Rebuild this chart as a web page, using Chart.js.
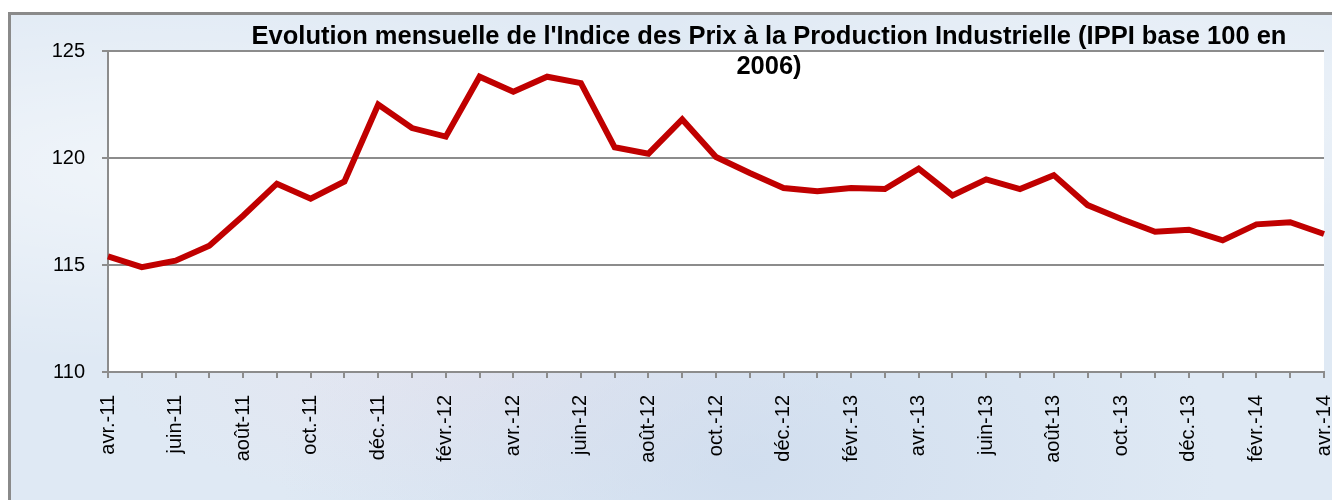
<!DOCTYPE html>
<html lang="fr">
<head>
<meta charset="utf-8">
<title>IPPI base 100 en 2006</title>
<script src="https://cdn.jsdelivr.net/npm/chart.js@4"></script>
<style>
  html, body { margin: 0; padding: 0; background: #fff; overflow: hidden; }
  #wrap { position: relative; width: 1332px; height: 500px; }
  #frame {
    position: absolute; left: 8px; top: 12px; width: 1340px; height: 500px;
    border: 3px solid #8a8a8a;
    background-color: #dfe9f4;
    background-image:
      radial-gradient(ellipse at 12% 30%, rgba(255,255,255,.55), rgba(255,255,255,0) 40%),
      radial-gradient(ellipse at 55% 90%, rgba(200,215,235,.6), rgba(200,215,235,0) 45%),
      radial-gradient(ellipse at 85% 20%, rgba(255,255,255,.45), rgba(255,255,255,0) 35%),
      radial-gradient(ellipse at 35% 70%, rgba(235,225,235,.5), rgba(235,225,235,0) 30%);
  }
  #chartTitle {
    position: absolute; left: 769px; top: 20px; transform: translateX(-50%);
    font: bold 25.5px Arial, "Liberation Sans", sans-serif; line-height: 30px;
    text-align: center; white-space: nowrap; color: #000; z-index: 2;
  }
  canvas { position: absolute; left: 0; top: 0; }
</style>
</head>
<body>
<div id="wrap">
  <div id="frame"></div>
  <canvas id="ippiChart" width="1332" height="500"></canvas>
  <div id="chartTitle">Evolution mensuelle de l'Indice des Prix à la Production Industrielle (IPPI base 100 en<br>2006)</div>
</div>
<script>
// ── data ──
const months = [
  'avr.-11', 'mai-11', 'juin-11', 'juil.-11', 'août-11', 'sept.-11', 'oct.-11', 'nov.-11', 'déc.-11',
  'janv.-12', 'févr.-12', 'mars-12', 'avr.-12', 'mai-12', 'juin-12', 'juil.-12', 'août-12', 'sept.-12',
  'oct.-12', 'nov.-12', 'déc.-12', 'janv.-13', 'févr.-13', 'mars-13', 'avr.-13', 'mai-13', 'juin-13',
  'juil.-13', 'août-13', 'sept.-13', 'oct.-13', 'nov.-13', 'déc.-13', 'janv.-14', 'févr.-14', 'mars-14',
  'avr.-14'
];
const ippi = [
  115.4, 114.9, 115.2, 115.9, 117.3, 118.8, 118.1, 118.9, 122.5,
  121.4, 121.0, 123.8, 123.1, 123.8, 123.5, 120.5, 120.2, 121.8,
  120.05, 119.3, 118.6, 118.45, 118.6, 118.55, 119.5, 118.25, 119.0,
  118.55, 119.2, 117.8, 117.15, 116.55, 116.65, 116.15, 116.9, 117.0,
  116.45
];
const yTicks = [110, 115, 120, 125];

const gridColor = '#8c8c8c';
const labelFont = { family: "Arial, 'Liberation Sans', sans-serif", size: 20 };

// white plot area on the textured background
const plotBg = {
  id: 'plotBg',
  beforeDraw(chart) {
    const { ctx, chartArea: a } = chart;
    ctx.save();
    ctx.fillStyle = '#ffffff';
    ctx.fillRect(a.left, a.top, a.right - a.left, a.bottom - a.top);
    ctx.restore();
  }
};

new Chart(document.getElementById('ippiChart'), {
  type: 'line',
  data: {
    labels: months,
    datasets: [{
      label: 'IPPI',
      data: ippi,
      borderColor: '#c00000',
      borderWidth: 6,
      pointRadius: 0,
      tension: 0,
      fill: false
    }]
  },
  options: {
    responsive: false,
    animation: false,
    layout: { padding: { top: 51, right: 8, left: 0, bottom: 0 } },
    plugins: { legend: { display: false }, title: { display: false }, tooltip: { enabled: false } },
    scales: {
      x: {
        offset: false,
        grid: { display: true, drawOnChartArea: false, drawTicks: true, tickLength: 6, color: gridColor, lineWidth: 2 },
        border: { display: true, color: gridColor, width: 2 },
        ticks: {
          autoSkip: false, minRotation: 90, maxRotation: 90, padding: 17,
          color: '#000', font: labelFont,
          callback: (v, i) => (i % 2 === 0 ? months[i] : '')
        },
        afterFit: s => { s.height = 128; s.paddingLeft = 0; s.paddingRight = 0; }
      },
      y: {
        min: 110, max: 125,
        afterBuildTicks: s => { s.ticks = yTicks.map(v => ({ value: v })); },
        grid: { color: gridColor, lineWidth: 2, tickLength: 6 },
        border: { display: true, color: gridColor, width: 2 },
        ticks: { color: '#000', font: labelFont, padding: 17 },
        afterFit: s => { s.width = 108; s.paddingTop = 0; s.paddingBottom = 0; }
      }
    }
  },
  plugins: [plotBg]
});
</script>
</body>
</html>
